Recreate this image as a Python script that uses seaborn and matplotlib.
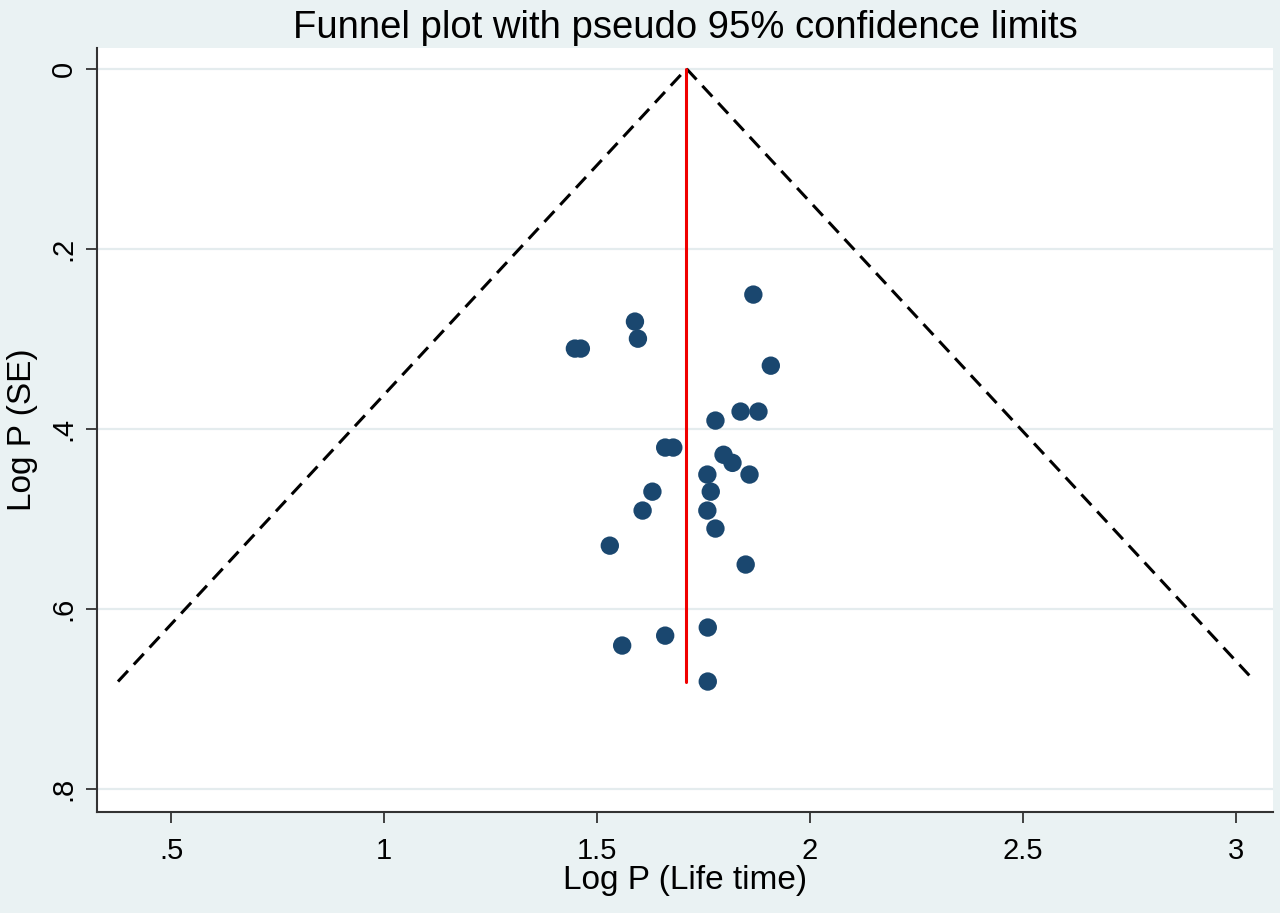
import numpy as np
import pandas as pd
import matplotlib
matplotlib.use("Agg")
import matplotlib.pyplot as plt
import seaborn as sns

# study estimates
log_p = [1.867, 1.589, 1.596, 1.448, 1.462, 1.908, 1.837, 1.879, 1.778,
         1.660, 1.679, 1.797, 1.818, 1.759, 1.858, 1.630, 1.767, 1.607,
         1.759, 1.778, 1.530, 1.849, 1.760, 1.660, 1.559, 1.760]
log_se = [0.251, 0.281, 0.300, 0.311, 0.311, 0.330, 0.381, 0.381, 0.391,
          0.421, 0.421, 0.429, 0.438, 0.451, 0.451, 0.470, 0.470, 0.491,
          0.491, 0.511, 0.530, 0.551, 0.621, 0.630, 0.641, 0.681]

pooled = 1.71
se_max = 0.681
x_ticks = [0.5, 1, 1.5, 2, 2.5, 3]
x_tick_labels = [".5", "1", "1.5", "2", "2.5", "3"]
y_ticks = [0, 0.2, 0.4, 0.6, 0.8]
y_tick_labels = ["0", ".2", ".4", ".6", ".8"]

df = pd.DataFrame({"log_p": log_p, "log_se": log_se})
funnel = pd.DataFrame({
    "x": [pooled - 1.96 * se_max, pooled, pooled + 1.96 * se_max],
    "y": [se_max, 0, se_max],
})

sns.set_style("white")
plt.rcParams["font.family"] = ["Liberation Sans", "DejaVu Sans"]
plt.rcParams["text.color"] = "black"
plt.rcParams["axes.labelcolor"] = "black"
plt.rcParams["xtick.color"] = "black"
plt.rcParams["ytick.color"] = "black"

bg = "#eaf2f3"
fig = plt.figure(figsize=(12.8, 9.13), dpi=100, facecolor=bg)
ax = fig.add_axes([0.0758, 0.1106, 0.9187, 0.8368])
ax.set_facecolor("white")

for yt in y_ticks:
    ax.axhline(yt, color="#e4ecee", lw=1.6, zorder=0)

sns.lineplot(data=funnel, x="x", y="y", ax=ax, color="black", lw=2.2,
             sort=False, estimator=None, dashes=False, zorder=2)
ax.lines[-1].set_dashes([4.8, 2.8])
ax.plot([pooled, pooled], [0, se_max], color="#f00000", lw=2.2, zorder=3)

sns.scatterplot(data=df, x="log_p", y="log_se", ax=ax, color="#1a476f",
                s=175, edgecolor="none", zorder=4)

ax.set_xlim(0.326, 3.087)
ax.set_ylim(0.826, -0.023)
ax.set_xticks(x_ticks)
ax.set_xticklabels(x_tick_labels)
ax.set_yticks(y_ticks)
ax.set_yticklabels(y_tick_labels, rotation=90, va="center")
ax.tick_params(axis="both", direction="out", length=8, width=1.3,
               color="#333333", labelsize=21, bottom=True, left=True)
ax.tick_params(axis="x", pad=10)
ax.tick_params(axis="y", pad=6)

for side in ["top", "right"]:
    ax.spines[side].set_visible(False)
for side in ["left", "bottom"]:
    ax.spines[side].set_color("#333333")
    ax.spines[side].set_linewidth(1.5)

ax.set_xlabel("Log P (Life time)", fontsize=24, labelpad=0)
ax.set_ylabel("Log P (SE)", fontsize=24, labelpad=8)
ax.set_title("Funnel plot with pseudo 95% confidence limits", fontsize=27.5,
             pad=7)

fig.savefig("out.png", dpi=100, facecolor=bg)
